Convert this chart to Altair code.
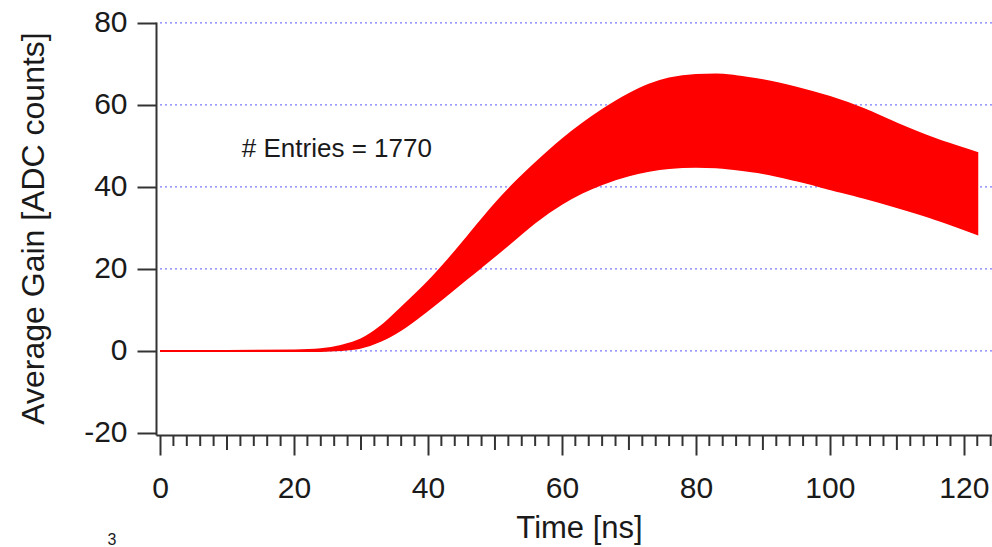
import altair as alt
import pandas as pd

# Pulse envelope of the averaged gain (upper and lower edge of all traces)
time_ns = [0, 10, 20, 24, 27, 30, 33, 36, 40, 43, 46, 50, 53, 56, 60, 63, 66,
           70, 73, 76, 80, 83, 86, 90, 95, 100, 105, 110, 115, 122]
gain_upper = [0.0, 0.0, 0.1, 0.4, 1.2, 2.8, 6.0, 10.5, 16.8, 22.2, 28.0, 35.8,
              41.0, 45.7, 51.5, 55.3, 58.7, 62.6, 64.9, 66.4, 67.3, 67.4, 67.0,
              66.0, 64.2, 61.9, 59.0, 55.4, 52.1, 48.3]
gain_lower = [0.0, 0.0, 0.0, 0.0, 0.2, 0.8, 2.5, 5.2, 10.0, 13.9, 17.9, 23.2,
              27.3, 31.4, 35.9, 38.6, 40.7, 42.8, 43.9, 44.6, 44.9, 44.8, 44.3,
              43.4, 41.6, 39.5, 37.4, 35.1, 32.6, 28.5]

entries_label = ["# Entries = 1770"]
entries_pos_t = [26.4]
entries_pos_g = [49.35]

x_major = [0, 20, 40, 60, 80, 100, 120]
x_mid = [10, 30, 50, 70, 90, 110]
x_minor = [v for v in range(2, 125, 2) if v % 10]
y_major = [-20, 0, 20, 40, 60, 80]
y_grid = [0, 20, 40, 60, 80]

FONT = "Liberation Sans"
INK = "#1a1a1a"
AXIS_INK = "#333333"
GRID_BLUE = "#7a7aff"
W, H = 836, 413

band_df = pd.DataFrame({"t": time_ns, "hi": gain_upper, "lo": gain_lower})

xscale = alt.Scale(domain=[-0.6, 124.2], nice=False, zero=False)
yscale = alt.Scale(domain=[-20.5, 80.2], nice=False, zero=False)

x_axis = alt.Axis(
    values=x_major, format="d", grid=False,
    tickSize=20, tickWidth=2, tickColor=AXIS_INK,
    domainColor=AXIS_INK, domainWidth=2,
    labelFont=FONT, labelFontSize=30, labelColor=INK, labelPadding=18,
    labelFlush=False, labelOverlap=False,
    title="Time [ns]", titleFont=FONT, titleFontSize=31, titleFontWeight="normal",
    titleColor=INK, titleX=423, titleY=102, titleBaseline="alphabetic",
    titleAlign="center",
)
y_axis = alt.Axis(
    values=y_major, format="d",
    labelExpr="replace(datum.label, '\u2212', '-')",
    grid=False,
    tickSize=19, tickWidth=2, tickColor=AXIS_INK,
    domainColor=AXIS_INK, domainWidth=2,
    labelFont=FONT, labelFontSize=30, labelColor=INK, labelPadding=10,
    labelOverlap=False,
    title="Average Gain [ADC counts]", titleFont=FONT, titleFontSize=32,
    titleFontWeight="normal", titleColor=INK, titleAngle=270,
    titleX=-113, titleY=206, titleBaseline="alphabetic", titleAlign="center",
)

# dotted blue reference lines, from t = 0 to the right edge
grid = alt.Chart(pd.DataFrame({"hi": y_grid})).mark_rule(
    color=GRID_BLUE, strokeDash=[2, 3], strokeWidth=1.2
).encode(
    y=alt.Y("hi:Q", scale=yscale, axis=y_axis),
    x=alt.datum(0, scale=xscale),
    x2=alt.value(W),
)

band = alt.Chart(band_df).mark_area(
    color="#ff0000", stroke="#ff0000", strokeWidth=2, interpolate="monotone"
).encode(
    x=alt.X("t:Q", scale=xscale, axis=x_axis),
    y=alt.Y("hi:Q", scale=yscale, axis=y_axis),
    y2="lo:Q",
)

note = alt.Chart(pd.DataFrame({
    "t": entries_pos_t, "hi": entries_pos_g, "label": entries_label
})).mark_text(
    font=FONT, fontSize=26, color=INK, align="center", baseline="middle"
).encode(
    x=alt.X("t:Q", scale=xscale, axis=x_axis),
    y=alt.Y("hi:Q", scale=yscale, axis=y_axis),
    text="label:N",
)

minor_ticks = alt.Chart(pd.DataFrame({"t": x_minor})).mark_rule(
    color=AXIS_INK, strokeWidth=2
).encode(
    x=alt.X("t:Q", scale=xscale, axis=x_axis),
    y=alt.value(H), y2=alt.value(H + 11),
)

mid_ticks = alt.Chart(pd.DataFrame({"t": x_mid})).mark_rule(
    color=AXIS_INK, strokeWidth=2
).encode(
    x=alt.X("t:Q", scale=xscale, axis=x_axis),
    y=alt.value(H), y2=alt.value(H + 15),
)

# small exponent digit below the axis block
exponent = alt.Chart(pd.DataFrame({"s": ["3"]})).mark_text(
    font=FONT, fontSize=16, color=INK, align="center", baseline="top"
).encode(
    x=alt.value(-44), y=alt.value(510), text="s:N",
)

chart = alt.layer(grid, band, note, minor_ticks, mid_ticks, exponent).properties(
    width=W, height=H,
    autosize=alt.AutoSizeParams(type="none"),
    padding={"left": 156, "top": 22, "right": 0, "bottom": 112},
    background="white",
).configure_view(stroke=None)

chart.save("out.html", embed_options={"renderer": "svg", "actions": False})
